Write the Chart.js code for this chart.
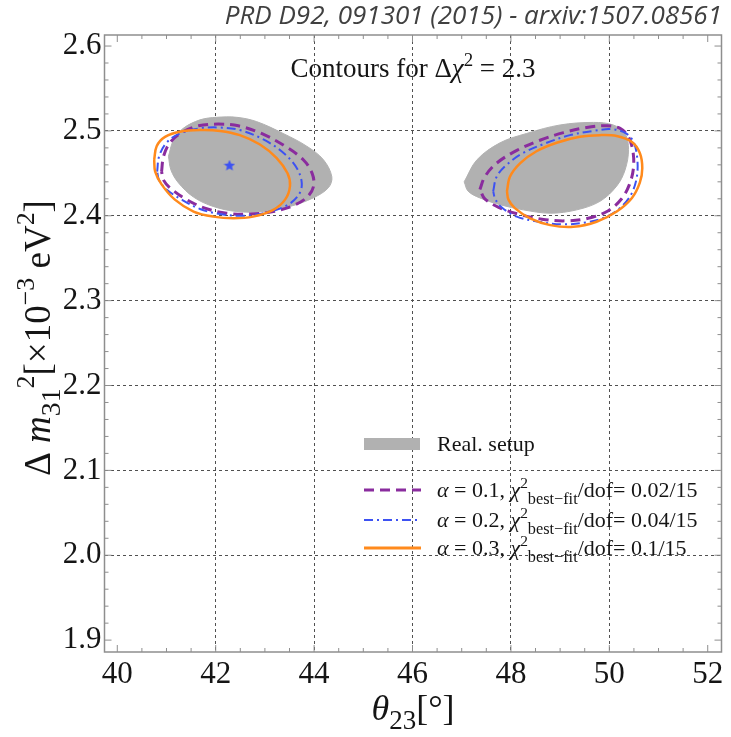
<!DOCTYPE html>
<html>
<head>
<meta charset="utf-8">
<script src="https://cdn.jsdelivr.net/npm/chart.js@4.4.1/dist/chart.umd.min.js"></script>
<style>
html, body { margin: 0; padding: 0; background: #fff; }
#wrap { width: 731px; height: 737px; }
</style>
</head>
<body>
<div id="wrap"><canvas id="chart" width="731" height="737"></canvas></div>
<script>
// axes
const xTicks = [40, 42, 44, 46, 48, 50, 52]
const yTicks = [1.9, 2.0, 2.1, 2.2, 2.3, 2.4, 2.5, 2.6]
const xRange = [39.74, 52.28]
const yRange = [1.886, 2.613]

// contour points [theta23, dm31^2]
const grayLeft = [[41.04,2.470],[41.14,2.489],[41.34,2.503],[41.68,2.513],[42.02,2.516],[42.43,2.516],[42.83,2.511],[43.37,2.497],[43.85,2.482],[44.19,2.466],[44.36,2.446],[44.29,2.433],[43.98,2.421],[43.51,2.411],[42.97,2.405],[42.43,2.405],[41.95,2.411],[41.55,2.422],[41.24,2.439],[41.09,2.454]]
const grayRight = [[47.05,2.440],[47.31,2.466],[47.78,2.486],[48.32,2.497],[49.00,2.507],[49.68,2.510],[50.08,2.507],[50.32,2.497],[50.39,2.478],[50.32,2.454],[50.15,2.435],[49.81,2.417],[49.34,2.407],[48.80,2.403],[48.25,2.407],[47.78,2.413],[47.37,2.421],[47.13,2.429]]

const purpleLeft = [[40.90,2.452],[40.94,2.470],[41.07,2.486],[41.31,2.498],[41.65,2.506],[42.05,2.508],[42.46,2.506],[42.93,2.497],[43.41,2.482],[43.78,2.466],[43.96,2.450],[43.99,2.435],[43.86,2.422],[43.58,2.412],[43.17,2.405],[42.70,2.402],[42.22,2.403],[41.78,2.409],[41.38,2.420],[41.07,2.433],[40.94,2.442]]
const purpleRight = [[47.37,2.431],[47.47,2.446],[47.71,2.462],[48.12,2.477],[48.59,2.489],[49.07,2.498],[49.54,2.504],[49.95,2.506],[50.22,2.503],[50.39,2.493],[50.48,2.476],[50.49,2.456],[50.41,2.437],[50.25,2.420],[49.98,2.406],[49.57,2.397],[49.10,2.394],[48.63,2.396],[48.15,2.402],[47.75,2.410],[47.47,2.420]]

const blueLeft = [[40.81,2.452],[40.85,2.470],[41.00,2.486],[41.27,2.497],[41.68,2.503],[42.09,2.504],[42.49,2.501],[42.97,2.490],[43.38,2.474],[43.65,2.456],[43.75,2.438],[43.68,2.424],[43.44,2.412],[43.04,2.404],[42.56,2.400],[42.09,2.402],[41.68,2.408],[41.31,2.419],[41.00,2.431],[40.85,2.442]]
const blueRight = [[47.64,2.429],[47.71,2.446],[47.91,2.460],[48.25,2.474],[48.73,2.486],[49.20,2.495],[49.68,2.500],[50.05,2.502],[50.34,2.497],[50.50,2.486],[50.57,2.466],[50.56,2.446],[50.46,2.427],[50.27,2.412],[49.95,2.399],[49.51,2.392],[49.03,2.390],[48.56,2.393],[48.12,2.399],[47.81,2.410],[47.68,2.420]]

const orangeLeft = [[40.75,2.466],[40.80,2.482],[40.97,2.493],[41.27,2.499],[41.68,2.501],[42.09,2.500],[42.49,2.495],[42.90,2.484],[43.24,2.468],[43.46,2.450],[43.51,2.435],[43.41,2.419],[43.17,2.407],[42.76,2.399],[42.36,2.397],[41.95,2.399],[41.55,2.405],[41.17,2.419],[40.90,2.437],[40.77,2.452]]
const orangeRight = [[47.92,2.429],[47.98,2.446],[48.19,2.462],[48.52,2.476],[48.93,2.486],[49.40,2.493],[49.81,2.495],[50.15,2.494],[50.46,2.487],[50.62,2.474],[50.67,2.456],[50.62,2.439],[50.46,2.421],[50.15,2.405],[49.74,2.393],[49.27,2.387],[48.80,2.389],[48.39,2.397],[48.08,2.409],[47.95,2.419]]

const bestFit = [[42.28, 2.459]]

const serif = '"Liberation Serif", "DejaVu Serif", serif'
const GRAY = '#b1b1b1', PURPLE = '#8a2c9e', BLUE = '#3d52f2', ORANGE = '#ff8a1c'

// text with italics / super- and subscripts: [text, kind]
const legendRows = [
    {kind: 'fill', color: GRAY, text: [['Real. setup', 'n']]},
    {kind: 'line', color: PURPLE, width: 3, dash: [10, 6], text: [['α', 'i'], [' = 0.1, ', 'n'], ['χ', 'i'], ['2', 'sup'], ['best−fit', 'tsub'], ['/dof= 0.02/15', 'n']]},
    {kind: 'line', color: BLUE, width: 2, dash: [9, 4, 2, 4], text: [['α', 'i'], [' = 0.2, ', 'n'], ['χ', 'i'], ['2', 'sup'], ['best−fit', 'tsub'], ['/dof= 0.04/15', 'n']]},
    {kind: 'line', color: ORANGE, width: 3, dash: [], text: [['α', 'i'], [' = 0.3, ', 'n'], ['χ', 'i'], ['2', 'sup'], ['best−fit', 'tsub'], ['/dof= 0.1/15', 'n']]}
]
const plotTitle = [['Contours for ', 'n'], ['Δ', 'n'], ['χ', 'i'], ['2', 'sup'], [' = 2.3', 'n']]
const xTitle = [['θ', 'i'], ['23', 'sub'], ['[°]', 'n']]
const yTitle = [['Δ ', 'n'], ['m', 'i'], ['31', 'sub'], ['2', 'sup'], ['[×10', 'n'], ['−3', 'sup'], [' eV', 'n'], ['2', 'sup'], [']', 'n']]
const header = 'PRD D92, 091301 (2015) - arxiv:1507.08561'

const kinds = {
    n: {s: 1, dy: 0, it: false},
    i: {s: 1, dy: 0, it: true},
    sup: {s: 0.7, dy: -0.42, it: false},
    sub: {s: 0.75, dy: 0.26, it: false},
    tsub: {s: 0.74, dy: 0.32, it: false}
}

function setFont(ctx, k, size){
    ctx.font = (k.it ? 'italic ' : '') + (size * k.s) + 'px ' + serif
}

function richWidth(ctx, parts, size){
    let w = 0
    for(const [t, kind] of parts){
        setFont(ctx, kinds[kind], size)
        w += ctx.measureText(t).width
    }
    return w
}

function drawRich(ctx, parts, x, y, size, align){
    let cx = x
    if(align == 'center') cx = x - richWidth(ctx, parts, size) / 2
    ctx.textBaseline = 'alphabetic'
    ctx.textAlign = 'left'
    for(const [t, kind] of parts){
        const k = kinds[kind]
        setFont(ctx, k, size)
        ctx.fillText(t, cx, y + k.dy * size)
        cx += ctx.measureText(t).width
    }
}

function starImage(size, color){
    const c = document.createElement('canvas')
    c.width = c.height = size
    const g = c.getContext('2d')
    g.fillStyle = color
    g.beginPath()
    for(let i = 0; i < 10; i++){
        const r = i % 2 ? size * 0.22 : size * 0.5
        const a = -Math.PI / 2 + i * Math.PI / 5
        g.lineTo(size / 2 + r * Math.cos(a), size / 2 + r * Math.sin(a))
    }
    g.closePath()
    g.fill()
    return c
}

function loop(arr){
    const pts = arr.map(p => ({x: p[0], y: p[1]}))
    pts.push({x: arr[0][0], y: arr[0][1]})
    return pts
}

function contour(label, arr, color, width, dash, order){
    return {
        label: label,
        data: loop(arr),
        showLine: true,
        borderColor: color,
        borderWidth: width,
        borderDash: dash,
        pointRadius: 0,
        tension: 0.35,
        fill: false,
        order: order
    }
}

function grayShape(label, arr){
    return {
        label: label,
        data: loop(arr),
        showLine: true,
        borderColor: GRAY,
        borderWidth: 1,
        backgroundColor: GRAY,
        pointRadius: 0,
        tension: 0.35,
        fill: 'shape',
        order: 10
    }
}

const decor = {
    id: 'decor',
    afterDraw(chart){
        const ctx = chart.ctx
        const {left, right, top, bottom} = chart.chartArea
        const xs = chart.scales.x, ys = chart.scales.y
        ctx.save()

        // frame with inward ticks on all sides
        ctx.strokeStyle = '#8e8e8e'
        ctx.lineWidth = 1.5
        ctx.strokeRect(left, top, right - left, bottom - top)
        ctx.lineWidth = 1
        ctx.beginPath()
        for(let i = 78; i <= 106; i++){
            const px = xs.getPixelForValue(i / 2)
            if(px < left + 1 || px > right - 1) continue
            const len = i % 4 == 0 ? 7 : 4
            ctx.moveTo(px, bottom); ctx.lineTo(px, bottom - len)
            ctx.moveTo(px, top); ctx.lineTo(px, top + len)
        }
        for(let i = 94; i <= 131; i++){
            const py = ys.getPixelForValue(i / 50)
            if(py < top + 1 || py > bottom - 1) continue
            const len = i % 5 == 0 ? 7 : 4
            ctx.moveTo(left, py); ctx.lineTo(left + len, py)
            ctx.moveTo(right, py); ctx.lineTo(right - len, py)
        }
        ctx.stroke()

        ctx.fillStyle = '#151515'
        drawRich(ctx, plotTitle, 413, 77, 27, 'center')

        // legend
        const rowY = [444, 490, 520, 548]
        legendRows.forEach((row, i) => {
            const y = rowY[i]
            if(row.kind == 'fill'){
                ctx.fillStyle = row.color
                ctx.fillRect(364, y - 6, 56, 12)
            } else {
                ctx.strokeStyle = row.color
                ctx.lineWidth = row.width
                ctx.setLineDash(row.dash)
                ctx.beginPath()
                ctx.moveTo(364, y); ctx.lineTo(421, y)
                ctx.stroke()
                ctx.setLineDash([])
            }
            ctx.fillStyle = '#151515'
            drawRich(ctx, row.text, 437, y + 7, 22, 'left')
        })

        // axis titles
        drawRich(ctx, xTitle, 413, 720, 36, 'center')
        ctx.save()
        ctx.translate(50, 338)
        ctx.rotate(-Math.PI / 2)
        drawRich(ctx, yTitle, 0, 0, 37, 'center')
        ctx.restore()

        // reference line at top
        ctx.fillStyle = '#404040'
        ctx.font = 'italic 26px "Open Sans", "Noto Sans", sans-serif'
        ctx.textAlign = 'right'
        ctx.textBaseline = 'alphabetic'
        ctx.fillText(header, 722, 24)
        ctx.restore()
    }
}

const gridColor = (edges) => (c) => edges.includes(c.tick.value) ? 'rgba(0,0,0,0)' : '#505050'

new Chart(document.getElementById('chart'), {
    type: 'scatter',
    data: {
        datasets: [
            {label: 'best fit', data: bestFit.map(p => ({x: p[0], y: p[1]})), pointStyle: starImage(12, BLUE), pointRadius: 6, order: 0},
            contour('α = 0.3', orangeLeft, ORANGE, 2.5, [], 1),
            contour('α = 0.3 ', orangeRight, ORANGE, 2.5, [], 1),
            contour('α = 0.2', blueLeft, BLUE, 2, [9, 4, 2, 4], 2),
            contour('α = 0.2 ', blueRight, BLUE, 2, [9, 4, 2, 4], 2),
            contour('α = 0.1', purpleLeft, PURPLE, 3, [10, 6], 3),
            contour('α = 0.1 ', purpleRight, PURPLE, 3, [10, 6], 3),
            grayShape('Real. setup', grayLeft),
            grayShape('Real. setup ', grayRight)
        ]
    },
    options: {
        responsive: false,
        animation: false,
        devicePixelRatio: 1,
        layout: {padding: {top: 35, right: 9.5, left: 0, bottom: 0}},
        plugins: {legend: {display: false}, tooltip: {enabled: false}},
        scales: {
            x: {
                type: 'linear',
                min: xRange[0],
                max: xRange[1],
                z: 1,
                afterFit: s => { s.height = 85 },
                ticks: {
                    stepSize: 2,
                    includeBounds: false,
                    padding: 4,
                    color: '#151515',
                    font: {family: serif, size: 31},
                    callback: v => xTicks.includes(v) ? String(v) : ''
                },
                grid: {color: gridColor([40, 52]), lineWidth: 1, drawTicks: false},
                border: {display: false, dash: [3, 3]}
            },
            y: {
                type: 'linear',
                min: yRange[0],
                max: yRange[1],
                z: 1,
                afterFit: s => { s.width = 104.5 },
                ticks: {
                    stepSize: 0.1,
                    includeBounds: false,
                    padding: 3,
                    color: '#151515',
                    font: {family: serif, size: 31},
                    callback: v => yTicks.some(t => Math.abs(t - v) < 1e-6) ? v.toFixed(1) : ''
                },
                grid: {color: c => (Math.abs(c.tick.value - 1.9) < 1e-6 || Math.abs(c.tick.value - 2.6) < 1e-6) ? 'rgba(0,0,0,0)' : '#505050', lineWidth: 1, drawTicks: false},
                border: {display: false, dash: [3, 3]}
            }
        }
    },
    plugins: [decor]
})
</script>
</body>
</html>
